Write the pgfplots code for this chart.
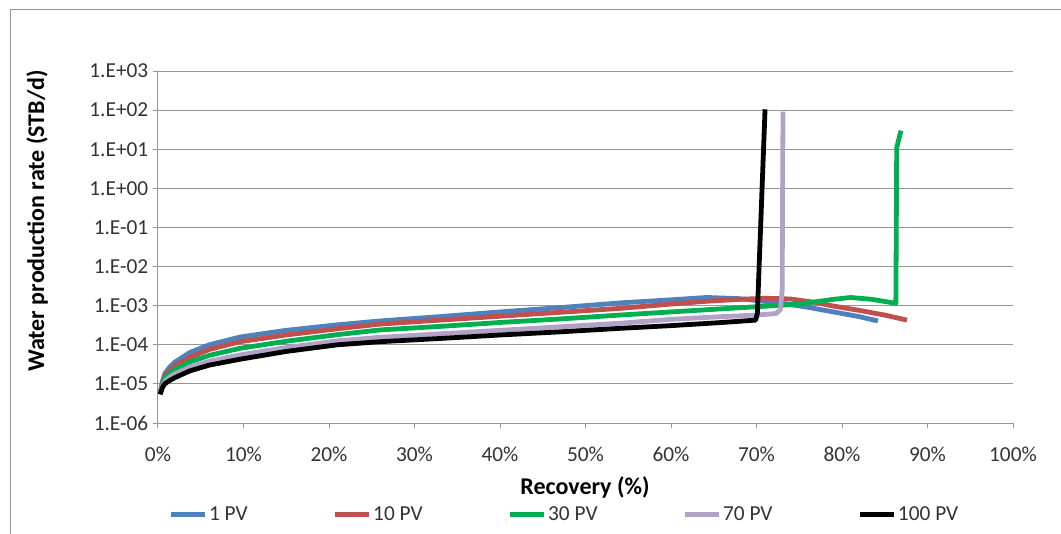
\documentclass[border=0pt]{standalone}
\usepackage{fontspec}
\setmainfont{Carlito}
\usepackage{pgfplots}
\pgfplotsset{compat=1.18}
\definecolor{c1}{HTML}{4F81BD}
\definecolor{c2}{HTML}{C0504D}
\definecolor{c3}{HTML}{00B050}
\definecolor{c4}{HTML}{B3A2C7}
\definecolor{c5}{HTML}{000000}
\definecolor{gridc}{HTML}{969696}
\definecolor{txt}{HTML}{333333}
\begin{document}
\begin{tikzpicture}
\useasboundingbox (0,0) rectangle (795.75pt,399.75pt);
\fill[white] (0,0) rectangle (795.75pt,399.75pt);
\draw[gridc, line width=0.75pt] (7.5pt,-2pt) -- (7.5pt,392.25pt) -- (800pt,392.25pt);
\begin{axis}[
  at={(118.5pt,82.5pt)}, anchor=south west,
  scale only axis, width=641.25pt, height=264pt,
  xmin=0, xmax=100, ymin=1e-6, ymax=1e3, ymode=log,
  axis x line=bottom, axis y line=left,
  axis line style={gridc, line width=0.75pt, -},
  xtick={0,10,20,30,40,50,60,70,80,90,100},
  xticklabels={0\%,10\%,20\%,30\%,40\%,50\%,60\%,70\%,80\%,90\%,100\%},
  ytick={1e-6,1e-5,1e-4,1e-3,1e-2,1e-1,1,10,100,1000},
  yticklabels={1.E-06,1.E-05,1.E-04,1.E-03,1.E-02,1.E-01,1.E+00,1.E+01,1.E+02,1.E+03},
  yminorticks=false, xminorticks=false,
  ymajorgrids, major grid style={gridc, line width=0.75pt},
  tick style={gridc, line width=0.75pt}, tick align=outside, major tick length=3.75pt,
  tick label style={font=\fontsize{16}{19}\selectfont, text=txt},
  xticklabel shift=9pt,
  xticklabel style={yshift=-1.5pt},
  xlabel={Recovery (\%)},
  xlabel style={at={(axis description cs:0.4994,-0.184)}, anchor=center, font=\bfseries\fontsize{18}{22}\selectfont},
  ylabel={Water production rate (STB/d)},
  ylabel style={at={(axis description cs:-0.1415,0.574)}, anchor=center, font=\bfseries\fontsize{18}{22}\selectfont},
  legend columns=5,
  legend style={at={(axis description cs:0.0117,-0.261)}, anchor=west, draw=none, fill=none, inner sep=0pt,
    /tikz/every even column/.append style={column sep=62pt},
    nodes={inner xsep=1.5pt, font=\mdseries\fontsize{16}{19}\selectfont, text=txt}},
  legend image code/.code={\draw[#1] (0pt,0pt) -- (25.5pt,0pt);},
  every axis plot/.append style={line width=3.6pt, line join=round, no markers},
]
\addplot[c1] coordinates {(0.25,5.75e-6)(0.5,1.12e-5)(0.82,1.86e-5)(1.4,2.75e-5)(2,3.63e-5)(3.7,6.31e-5)(6,1.00e-4)(9.6,1.58e-4)(15,2.34e-4)(21,3.24e-4)(26,4.07e-4)(33,5.25e-4)(40,6.92e-4)(47,8.91e-4)(54,1.175e-3)(60,1.41e-3)(64.2,1.62e-3)(68,1.51e-3)(72.7,1.175e-3)(76,9.12e-4)(79,6.92e-4)(82,5.25e-4)(84.2,4.07e-4)};
\addlegendentry{1 PV}
\addplot[c2] coordinates {(0.25,5.75e-6)(0.5,1.00e-5)(0.82,1.58e-5)(1.4,2.24e-5)(2,2.88e-5)(3.7,4.79e-5)(6,7.59e-5)(9.6,1.20e-4)(15,1.78e-4)(21,2.57e-4)(26,3.39e-4)(33,4.27e-4)(40,5.37e-4)(47,6.76e-4)(54,8.51e-4)(60,1.10e-3)(64,1.29e-3)(68,1.45e-3)(71,1.55e-3)(74,1.48e-3)(77,1.20e-3)(79,9.77e-4)(82,7.59e-4)(85,5.75e-4)(87.6,4.27e-4)};
\addlegendentry{10 PV}
\addplot[c3] coordinates {(0.25,5.75e-6)(0.5,9.12e-6)(0.82,1.38e-5)(1.4,1.86e-5)(2,2.34e-5)(3.7,3.63e-5)(6,5.37e-5)(9.6,8.13e-5)(15,1.23e-4)(21,1.82e-4)(26,2.40e-4)(33,2.95e-4)(40,3.72e-4)(47,4.57e-4)(54,5.75e-4)(60,6.92e-4)(66,8.32e-4)(72.7,1.02e-3)(75,1.10e-3)(79,1.45e-3)(81,1.62e-3)(83.5,1.45e-3)(86.3,1.15e-3)(86.4,11)(86.7,20)(86.9,30)};
\addlegendentry{30 PV}
\addplot[c4] coordinates {(0.25,5.62e-6)(0.5,8.32e-6)(0.82,1.175e-5)(1.4,1.51e-5)(2,1.82e-5)(3.7,2.69e-5)(6,3.80e-5)(9.6,5.50e-5)(15,8.51e-5)(21,1.26e-4)(26,1.55e-4)(33,1.91e-4)(40,2.34e-4)(47,2.88e-4)(54,3.55e-4)(60,4.47e-4)(66,5.25e-4)(70,5.75e-4)(72.3,6.31e-4)(72.8,7.94e-4)(73.0,2.51e-3)(73.1,91.2)};
\addlegendentry{70 PV}
\addplot[c5] coordinates {(0.25,5.37e-6)(0.5,7.94e-6)(0.82,1.02e-5)(1.4,1.23e-5)(2,1.45e-5)(3.7,2.14e-5)(6,3.02e-5)(9.6,4.27e-5)(15,6.76e-5)(21,1.00e-4)(26,1.20e-4)(33,1.45e-4)(40,1.78e-4)(47,2.14e-4)(54,2.63e-4)(60,3.09e-4)(66,3.72e-4)(69.9,4.27e-4)(70.1,6.31e-4)(71.0,105)};
\addlegendentry{100 PV}
\end{axis}
\end{tikzpicture}
\end{document}
